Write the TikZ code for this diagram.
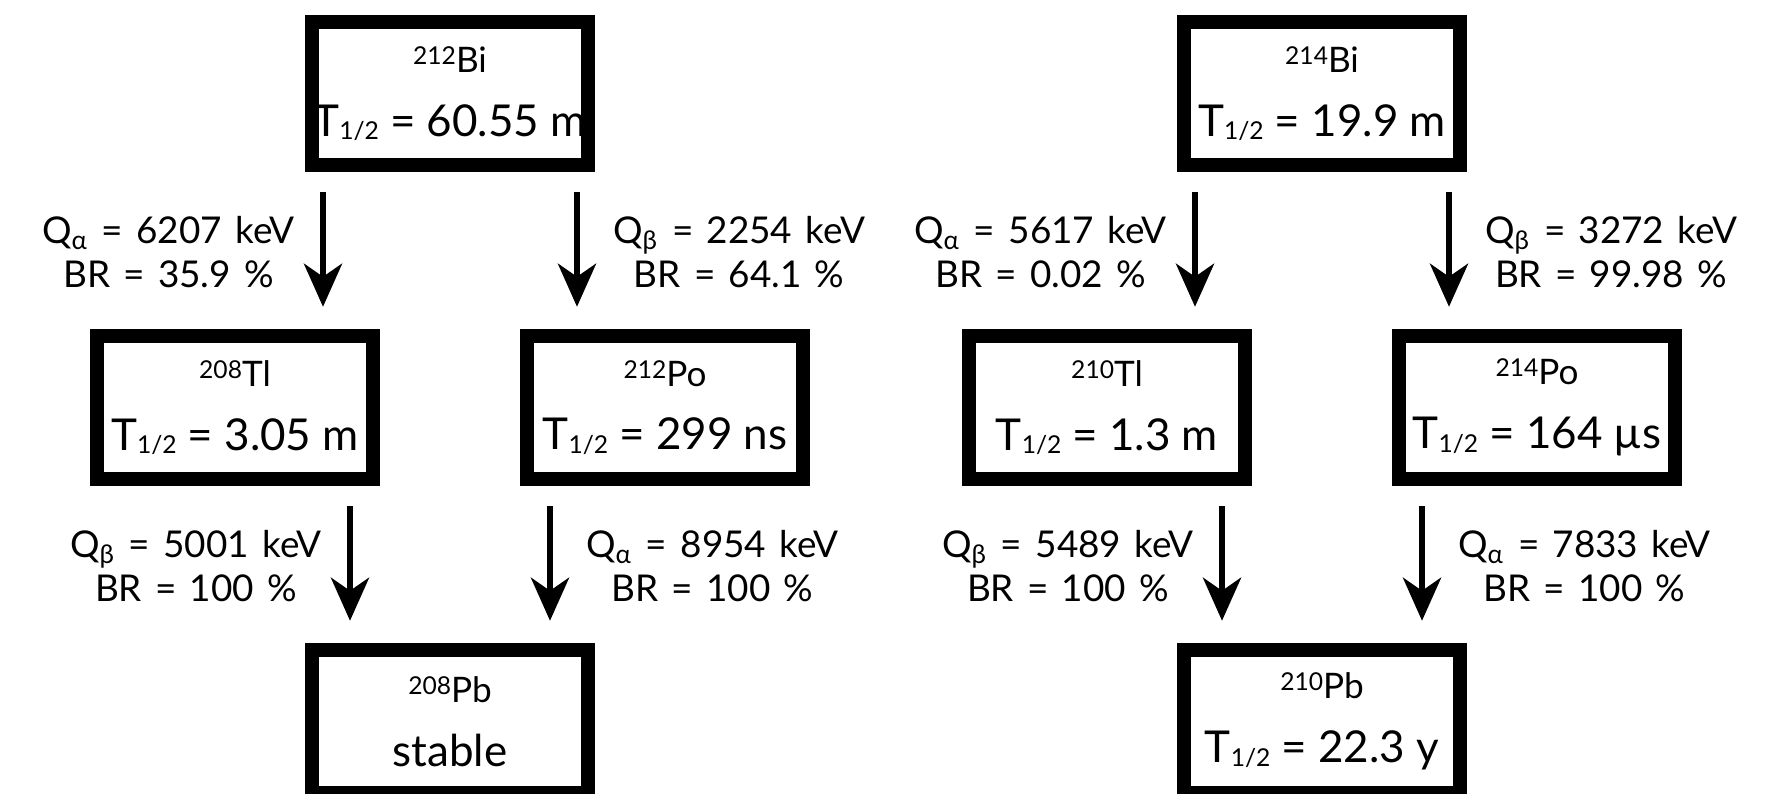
\documentclass[tikz,border=0pt]{standalone}
\usepackage{fontspec}
\setmainfont{Lato}
\newfontfamily\labelfont{Lato}[WordSpace=1.4]
\usetikzlibrary{arrows.meta}
\tikzset{
  nuclide/.style={rectangle,draw=black,line width=3.9pt,fill=white,
    minimum width=2.765cm,minimum height=1.435cm,inner sep=0pt,outer sep=0pt,
    align=center,font=\fontsize{12.5}{18.2}\selectfont},
  decay/.style={line width=1.8pt,-{Stealth[length=4.3mm,width=3.8mm,inset=1.3mm]}},
  decaylabel/.style={inner sep=0pt,align=center,
    font=\labelfont\fontsize{10.5}{12.5}\selectfont}
}
\newcommand{\nucname}[2]{{\fontsize{10}{18.2}\selectfont\raisebox{2.2pt}{\fontsize{7}{7}\selectfont#1}#2}}
\newcommand{\thalf}{T\raisebox{-1pt}{\fontsize{7}{7}\selectfont 1/2}}
\begin{document}
\begin{tikzpicture}
  \useasboundingbox (0,0) rectangle (17.73,-7.93);
  \clip (0,0) rectangle (17.73,-7.93);

  \node[nuclide] (bi212) at (4.50,-0.935) {\nucname{212}{Bi}\\\thalf{} = 60.55 m};
  \node[nuclide] (tl208) at (2.35,-4.075) {\nucname{208}{Tl}\\\thalf{} = 3.05 m};
  \node[nuclide] (po212) at (6.65,-4.075) {\nucname{212}{Po}\\\thalf{} = 299 ns};
  \node[nuclide] (pb208) at (4.50,-7.215) {\nucname{208}{Pb}\\stable};

  \node[nuclide] (bi214) at (13.22,-0.935) {\nucname{214}{Bi}\\\thalf{} = 19.9 m};
  \node[nuclide] (tl210) at (11.07,-4.075) {\nucname{210}{Tl}\\\thalf{} = 1.3 m};
  \node[nuclide] (po214) at (15.37,-4.075) {\nucname{214}{Po}\\\thalf{} = 164 µs};
  \node[nuclide] (pb210) at (13.22,-7.215) {\nucname{210}{Pb}\\\thalf{} = 22.3 y};

  \draw[decay] ([xshift=-12.7mm,yshift=-2.7mm]bi212.south) -- ([xshift=-12.7mm,yshift=2.9mm]bi212.south |- tl208.north)
    node[midway,left=2.5mm,yshift=-0.3mm,decaylabel] {Q\textsubscript{α} = 6207 keV\\BR = 35.9 \%};
  \draw[decay] ([xshift=12.7mm,yshift=-2.7mm]bi212.south) -- ([xshift=12.7mm,yshift=2.9mm]bi212.south |- po212.north)
    node[midway,right=3.3mm,yshift=-0.3mm,decaylabel] {Q\textsubscript{β} = 2254 keV\\BR = 64.1 \%};
  \draw[decay] ([xshift=-10mm,yshift=-2.7mm]pb208.north |- tl208.south) -- ([xshift=-10mm,yshift=2.9mm]pb208.north)
    node[midway,left=2.5mm,yshift=-0.3mm,decaylabel] {Q\textsubscript{β} = 5001 keV\\BR = 100 \%};
  \draw[decay] ([xshift=10mm,yshift=-2.7mm]pb208.north |- po212.south) -- ([xshift=10mm,yshift=2.9mm]pb208.north)
    node[midway,right=3.3mm,yshift=-0.3mm,decaylabel] {Q\textsubscript{α} = 8954 keV\\BR = 100 \%};

  \draw[decay] ([xshift=-12.7mm,yshift=-2.7mm]bi214.south) -- ([xshift=-12.7mm,yshift=2.9mm]bi214.south |- tl210.north)
    node[midway,left=2.5mm,yshift=-0.3mm,decaylabel] {Q\textsubscript{α} = 5617 keV\\BR = 0.02 \%};
  \draw[decay] ([xshift=12.7mm,yshift=-2.7mm]bi214.south) -- ([xshift=12.7mm,yshift=2.9mm]bi214.south |- po214.north)
    node[midway,right=3.3mm,yshift=-0.3mm,decaylabel] {Q\textsubscript{β} = 3272 keV\\BR = 99.98 \%};
  \draw[decay] ([xshift=-10mm,yshift=-2.7mm]pb210.north |- tl210.south) -- ([xshift=-10mm,yshift=2.9mm]pb210.north)
    node[midway,left=2.5mm,yshift=-0.3mm,decaylabel] {Q\textsubscript{β} = 5489 keV\\BR = 100 \%};
  \draw[decay] ([xshift=10mm,yshift=-2.7mm]pb210.north |- po214.south) -- ([xshift=10mm,yshift=2.9mm]pb210.north)
    node[midway,right=3.3mm,yshift=-0.3mm,decaylabel] {Q\textsubscript{α} = 7833 keV\\BR = 100 \%};
\end{tikzpicture}
\end{document}
